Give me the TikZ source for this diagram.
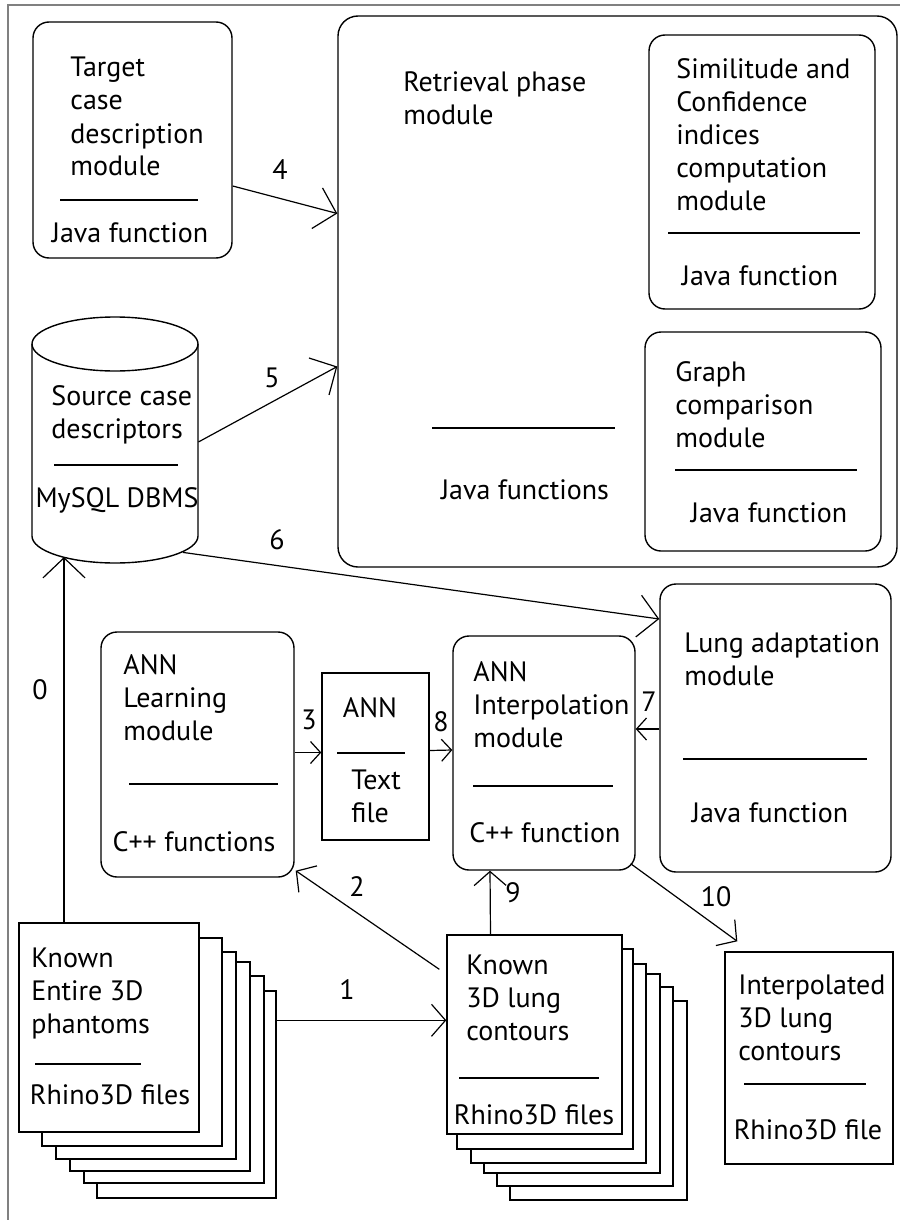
\documentclass[tikz,border=0pt]{standalone}
\usepackage{fontspec}
\setmainfont{PT Sans}
\usetikzlibrary{arrows.meta,fit,calc}
\newcommand\myfont{\fontsize{14}{16.5}\selectfont}
\tikzset{
  mod/.style={draw, line width=0.7pt, rounded corners=8pt, inner sep=0pt, fit={#1}},
  sq/.style={draw, line width=0.7pt, fill=white, inner sep=0pt, fit={#1}},
  txt/.style={inner sep=0pt, align=left, font=\myfont, anchor=north west},
  ctxt/.style={inner sep=0pt, font=\myfont, anchor=center},
  lbl/.style={inner sep=0pt, font=\myfont},
  sepline/.style={line width=0.6pt},
  con/.style={line width=0.6pt},
  bigtip/.style={con, -{Straight Barb[length=10pt, width=21pt, line width=0.6pt]}},
  midtip/.style={con, -{Straight Barb[length=7pt, width=16pt, line width=0.6pt]}},
  smalltip/.style={con, -{Straight Barb[length=5pt, width=11pt, line width=0.6pt]}},
  frameline/.style={draw=gray, line width=1pt}
}
\begin{document}
\begin{tikzpicture}[x=0.5pt, y=-0.5pt]
\useasboundingbox (0,0) rectangle (900,1220);
\fill[white] (0,0) rectangle (900,1220);
% outer frame (cropped)
\draw[frameline] (8,1220) -- (8,5) -- (900,5);

% Target case description module
\node[mod={(33,22) (232,258)}] (target) {};
\node[txt] (targetT) at (70,57) {Target\\case\\description\\module};
\draw[sepline] (60,200) -- (198,200);
\node[ctxt] (targetF) at (130,233) {Java function};

% Retrieval phase module
\node[mod={(338,16) (897,567)}, rounded corners=10pt] (retr) {};
\node[txt] (retrT) at (403,71) {Retrieval phase\\module};
\draw[sepline] (432,428) -- (615,428);
\node[ctxt] (retrF) at (525,490) {Java functions};

% Similitude module
\node[mod={(649,35) (875,309)}] (simil) {};
\node[txt] (similT) at (676,58) {Similitude and\\Confidence\\indices\\computation\\module};
\draw[sepline] (668,233) -- (860,233);
\node[ctxt] (similF) at (760,276) {Java function};

% Graph comparison module
\node[mod={(645,332) (881,551)}] (graph) {};
\node[txt] (graphT) at (675,361) {Graph\\comparison\\module};
\draw[sepline] (675,470) -- (857,470);
\node[ctxt] (graphF) at (769,513) {Java function};

% Database cylinder
\node[inner sep=0pt, fit={(32,317) (198,563)}] (db) {};
\draw[line width=0.7pt, fill=white] (32,344) -- (32,536) arc[start angle=180, end angle=0, x radius=83, y radius=27] -- (198,344);
\draw[line width=0.7pt] (115,344) ellipse[x radius=83, y radius=27];
\node[txt] (dbT) at (51,385) {Source case\\descriptors};
\draw[sepline] (54,465) -- (178,465);
\node[ctxt] (dbF) at (117,500) {MySQL DBMS};

% ANN Learning module
\node[mod={(101,632) (294,877)}] (annL) {};
\node[txt] (annLT) at (123,654) {ANN\\Learning\\module};
\draw[sepline] (129,784) -- (278,784);
\node[ctxt] (annLF) at (194,842) {C++ functions};

% ANN text file
\node[sq={(322,673) (429,840)}] (annF) {};
\node[ctxt] (annFT) at (370,708) {ANN};
\draw[sepline] (337,753) -- (405,753);
\node[txt] (annFF) at (351,769) {Text\\file};

% ANN Interpolation module
\node[mod={(453,636) (635,870)}] (annI) {};
\node[txt] (annIT) at (473,661) {ANN\\Interpolation\\module};
\draw[sepline] (473,786) -- (613,786);
\node[ctxt] (annIF) at (545,833) {C++ function};

% Lung adaptation module
\node[mod={(660,584) (891,872)}] (lung) {};
\node[txt] (lungT) at (684,632) {Lung adaptation\\module};
\draw[sepline] (683,759) -- (867,759);
\node[ctxt] (lungF) at (770,813) {Java function};

% Stack A: Known entire 3D phantoms
\node[sq={(97,991) (276,1198)}] (sA6) {};
\node[sq={(84,976) (264,1183)}] (sA5) {};
\node[sq={(70,962) (250,1171)}] (sA4) {};
\node[sq={(56,952) (236,1159)}] (sA3) {};
\node[sq={(42,938) (222,1146)}] (sA2) {};
\node[sq={(19,923) (199,1132)}] (stackA) {};
\node[txt] (stackAT) at (31,947) {Known\\Entire 3D\\phantoms};
\draw[sepline] (35,1064) -- (141,1064);
\node[ctxt] (stackAF) at (110,1095) {Rhino3D files};

% Stack B: Known 3D lung contours
\node[sq={(510,1001) (687,1200)}] (sB6) {};
\node[sq={(497,987) (673,1186)}] (sB5) {};
\node[sq={(484,974) (660,1173)}] (sB4) {};
\node[sq={(471,964) (646,1163)}] (sB3) {};
\node[sq={(457,949) (633,1149)}] (sB2) {};
\node[sq={(447,935) (622,1134)}] (stackB) {};
\node[txt] (stackBT) at (466,954) {Known\\3D lung\\contours};
\draw[sepline] (459,1078) -- (599,1078);
\node[ctxt] (stackBF) at (534,1115) {Rhino3D files};

% Interpolated contours
\node[sq={(725,952) (893,1164)}] (interp) {};
\node[txt] (interpT) at (738,974) {Interpolated\\3D lung\\contours};
\draw[sepline] (744,1084) -- (866,1084);
\node[ctxt] (interpF) at (808,1130) {Rhino3D file};

% free ends
\coordinate (c0) at (64,557);
\coordinate (c10) at ($(interp.north west)+(13,-10)$);

% connectors
\draw[bigtip] ($(stackA.north)+(-45,0)$) -- (c0);
\node[lbl] (l0) at (40,690) {0};

\draw[midtip] ($(sA6.north east)+(0,30)$) -- ($(stackB.north west)+(0,86)$);
\node[lbl] (l1) at (347,990) {1};

\draw[midtip] ($(stackB.north west)+(-7,35)$) -- ($(annL.south east)+(1,-7)$);
\node[lbl] (l2) at (357,887) {2};

\draw[smalltip] ($(annL.east)+(0,-2)$) -- ($(annF.west)+(0,-4)$);
\node[lbl] (l3) at (309,720) {3};

\draw[bigtip] ($(target.east)+(0,46)$) -- ($(retr.west)+(0,-78)$);
\node[lbl] (l4) at (280,170) {4};

\draw[bigtip] ($(db.east)+(0,2)$) -- ($(retr.west)+(0,75)$);
\node[lbl] (l5) at (272,378) {5};

\draw[bigtip] ($(db.south)+(68,-11)$) -- ($(lung.west)+(0,-109)$);
\node[lbl] (l6) at (277,540) {6};

\draw[smalltip] ($(lung.west)+(0,1)$) -- ($(annI.east)+(0,-24)$);
\node[lbl] (l7) at (649,702) {7};

\draw[smalltip] ($(annF.east)+(0,-6)$) -- ($(annI.west)+(0,-3)$);
\node[lbl] (l8) at (441,722) {8};

\draw[midtip] ($(stackB.north)+(-44,0)$) -- ($(annI.south)+(-54,0)$);
\node[lbl] (l9) at (513,893) {9};

\draw[midtip] ($(annI.south east)+(-5,-7)$) -- (c10);
\node[lbl] (l10) at (716,897) {10};
\end{tikzpicture}
\end{document}
